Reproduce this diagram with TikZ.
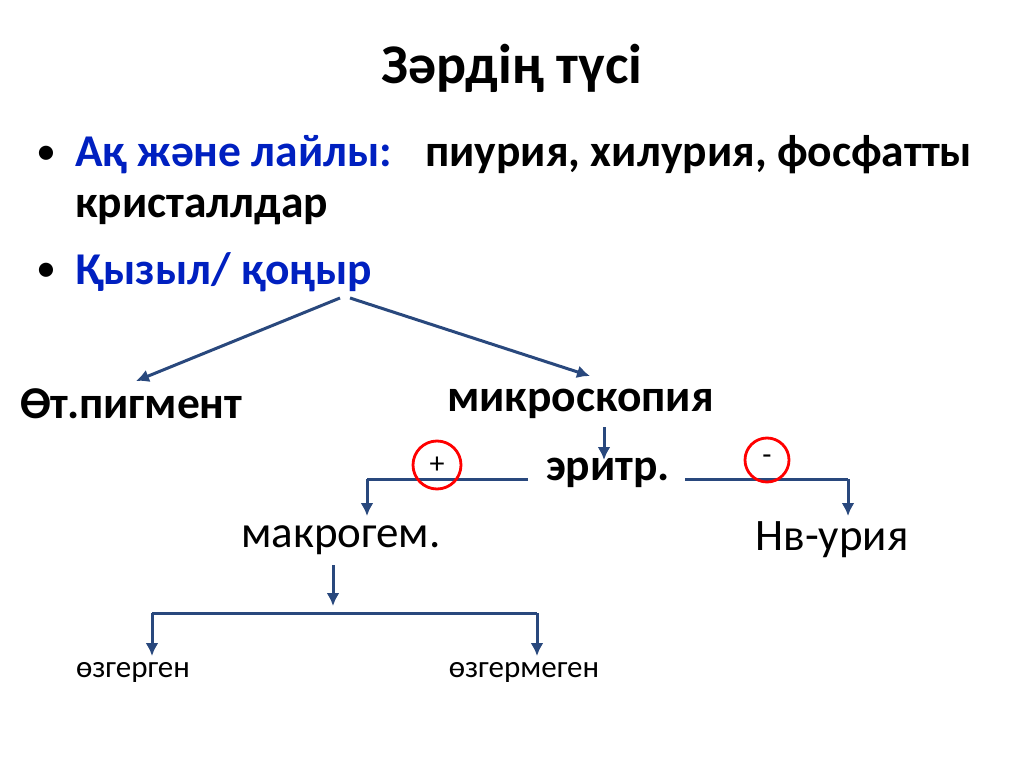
\documentclass[tikz,border=0pt]{standalone}
\usepackage{fontspec}
\setmainfont{Carlito}
\usetikzlibrary{positioning,arrows.meta}
\definecolor{arrowblue}{RGB}{41,72,125}
\definecolor{headblue}{RGB}{0,32,192}
\begin{document}
\begin{tikzpicture}[x=1pt,y=-1pt,
    % define styles
    big/.style={font=\fontsize{45.5}{52}\selectfont\bfseries, inner sep=0pt, anchor=west},
    mid/.style={font=\fontsize{45}{52}\selectfont, inner sep=0pt},
    small/.style={font=\fontsize{31}{36}\selectfont, inner sep=0pt},
    arr/.style={draw=arrowblue, line width=3pt, -{Latex[length=13pt,width=13pt]}},
    bar/.style={draw=arrowblue, line width=3pt},
    mark/.style={draw=red, line width=2.8pt, circle, minimum size=#1, inner sep=0pt, font=\fontsize{30}{32}\selectfont}
]
\useasboundingbox (0,0) rectangle (1024,767);
% Title
\node[font=\fontsize{56}{62}\selectfont\bfseries] (title) at (512,68) {Зәрдің түсі};
% Bullets
\node[big, font=\fontsize{40}{46}\selectfont] (b1) at (36,155) {•};
\node[big, text=headblue] (white) at (75,155) {Ақ және лайлы:};
\node[big] (white1) at (425,155) {пиурия, хилурия, фосфатты};
\node[big] (white2) at (75,210) {кристаллдар};
\node[big, font=\fontsize{40}{46}\selectfont] (b2) at (36,272) {•};
\node[big, text=headblue] (red) at (75,272) {Қызыл/ қоңыр};
% Second level
\node[big] (bile) at (20,404) {Өт.пигмент};
\node[big] (micro) at (447,404) {микроскопия};
\node[big, anchor=center] (eryth) at (608,473) {эритр.};
\node[mid] (macro) at (341,540) {макрогем.};
\node[mid] (hb) at (832,540) {Нв-урия};
\node[small] (changed) at (133,672) {өзгерген};
\node[small] (unchanged) at (524,672) {өзгермеген};
% Junctions
\coordinate (top1) at (340,298);
\coordinate (top2) at (350,298);
\coordinate (left) at (367,479);
\coordinate (right) at (848,479);
\coordinate (lowmid) at (333,613);
\coordinate (lowleft) at (152,613);
\coordinate (lowright) at (537,613);
% Arrows
\draw[arr] (top1) -- (136,381);
\draw[arr] (top2) -- (590,376);
\draw[arr] (604,427) -- (604,460);
\draw[bar] (528,479) -- (left);
\draw[arr] (left) -- (367,516);
\draw[bar] (685,479) -- (right);
\draw[arr] (right) -- (848,516);
\draw[arr] (333,565) -- (333,606);
\draw[bar] (lowleft) -- (lowright);
\draw[arr] (lowleft) -- (152,656);
\draw[arr] (lowright) -- (537,656);
% Signs
\node[mark=48pt] (plus) at (437,465) {+};
\node[mark=44pt] (minus) at (767,460) {-};
\end{tikzpicture}
\end{document}
